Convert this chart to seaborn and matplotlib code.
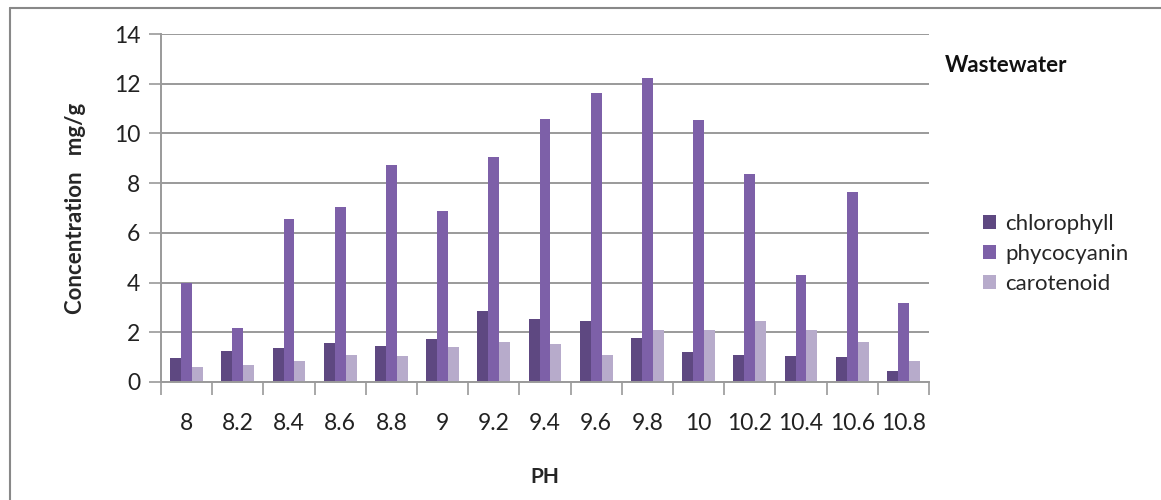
import pandas as pd
import numpy as np
import matplotlib
matplotlib.use("Agg")
import matplotlib.pyplot as plt
from matplotlib.lines import Line2D
import seaborn as sns

ph = ["8", "8.2", "8.4", "8.6", "8.8", "9", "9.2", "9.4", "9.6", "9.8",
      "10", "10.2", "10.4", "10.6", "10.8"]
chlorophyll = [0.95, 1.26, 1.35, 1.57, 1.46, 1.72, 2.86, 2.53, 2.44, 1.77,
               1.21, 1.10, 1.04, 1.00, 0.43]
phycocyanin = [3.97, 2.18, 6.56, 7.03, 8.73, 6.88, 9.05, 10.59, 11.63, 12.24,
               10.54, 8.38, 4.30, 7.64, 3.16]
carotenoid = [0.59, 0.68, 0.84, 1.10, 1.04, 1.41, 1.61, 1.52, 1.10, 2.08,
              2.08, 2.44, 2.08, 1.61, 0.84]
pigments = ["chlorophyll", "phycocyanin", "carotenoid"]

df = pd.DataFrame({"PH": ph, "chlorophyll": chlorophyll,
                   "phycocyanin": phycocyanin, "carotenoid": carotenoid})
long = df.melt(id_vars="PH", var_name="pigment", value_name="conc")

sns.set_style("white")
plt.rcParams['font.family'] = ['Lato', 'DejaVu Sans']

fig = plt.figure(figsize=(11.61, 5), dpi=100)
ax = fig.add_axes([161 / 1161, 1 - 382 / 500, (929 - 161) / 1161, (382 - 34) / 500])

colors = ["#5e4881", "#7d60a8", "#b7abcb"]
sns.barplot(data=long, x="PH", y="conc", hue="pigment", order=ph,
            hue_order=pigments, palette=colors, width=0.64, gap=0,
            saturation=1, ax=ax, errorbar=None, legend=True, linewidth=0)

ax.set_ylim(0, 14)
ax.set_xlim(-0.5, len(ph) - 0.5)
ax.set_yticks(range(0, 15, 2))
ax.xaxis.grid(False, which="both")
ax.yaxis.grid(True, which="major", color="#9a9a9a", linewidth=1.4)
ax.set_axisbelow(True)
sns.despine(ax=ax)
for s in ["left", "bottom"]:
    ax.spines[s].set_color("#9a9a9a")
    ax.spines[s].set_linewidth(1.4)

ax.tick_params(axis="y", which="major", length=9, width=1.2, color="#9a9a9a",
               direction="out", labelsize=16.5, labelcolor="#222222", pad=6,
               left=True, right=False)
ax.tick_params(axis="x", which="major", length=0, labelsize=16.5,
               labelcolor="#222222", pad=22)
ax.set_xticks(np.arange(-0.5, len(ph), 1.0), minor=True)
ax.tick_params(axis="x", which="minor", length=9, width=1.2, color="#9a9a9a",
               direction="out", bottom=True)

ax.set_xlabel("PH", fontsize=15, fontweight="bold", labelpad=24)
ax.set_ylabel("Concentration   mg/g", fontsize=16, fontweight="bold", labelpad=20)

handles, labels = ax.get_legend_handles_labels()
ax.legend(handles, labels, loc="upper left", bbox_to_anchor=(963 / 1161, 1 - 194 / 500),
          bbox_transform=fig.transFigure, frameon=False, fontsize=16,
          handlelength=0.6, handleheight=0.6, handletextpad=0.4, labelspacing=0.45)

fig.text(945 / 1161, 1 - 66 / 500, "Wastewater", fontsize=16, fontweight="bold",
         va="center", ha="left", color="#111111")

# outer frame of the figure box
fig.add_artist(Line2D([10 / 1161, 10 / 1161], [0, 1 - 8 / 500],
                      transform=fig.transFigure, color="#888888", linewidth=1.5))
fig.add_artist(Line2D([10 / 1161, 1], [1 - 8 / 500, 1 - 8 / 500],
                      transform=fig.transFigure, color="#888888", linewidth=1.5))

fig.savefig("out.png", dpi=100)
